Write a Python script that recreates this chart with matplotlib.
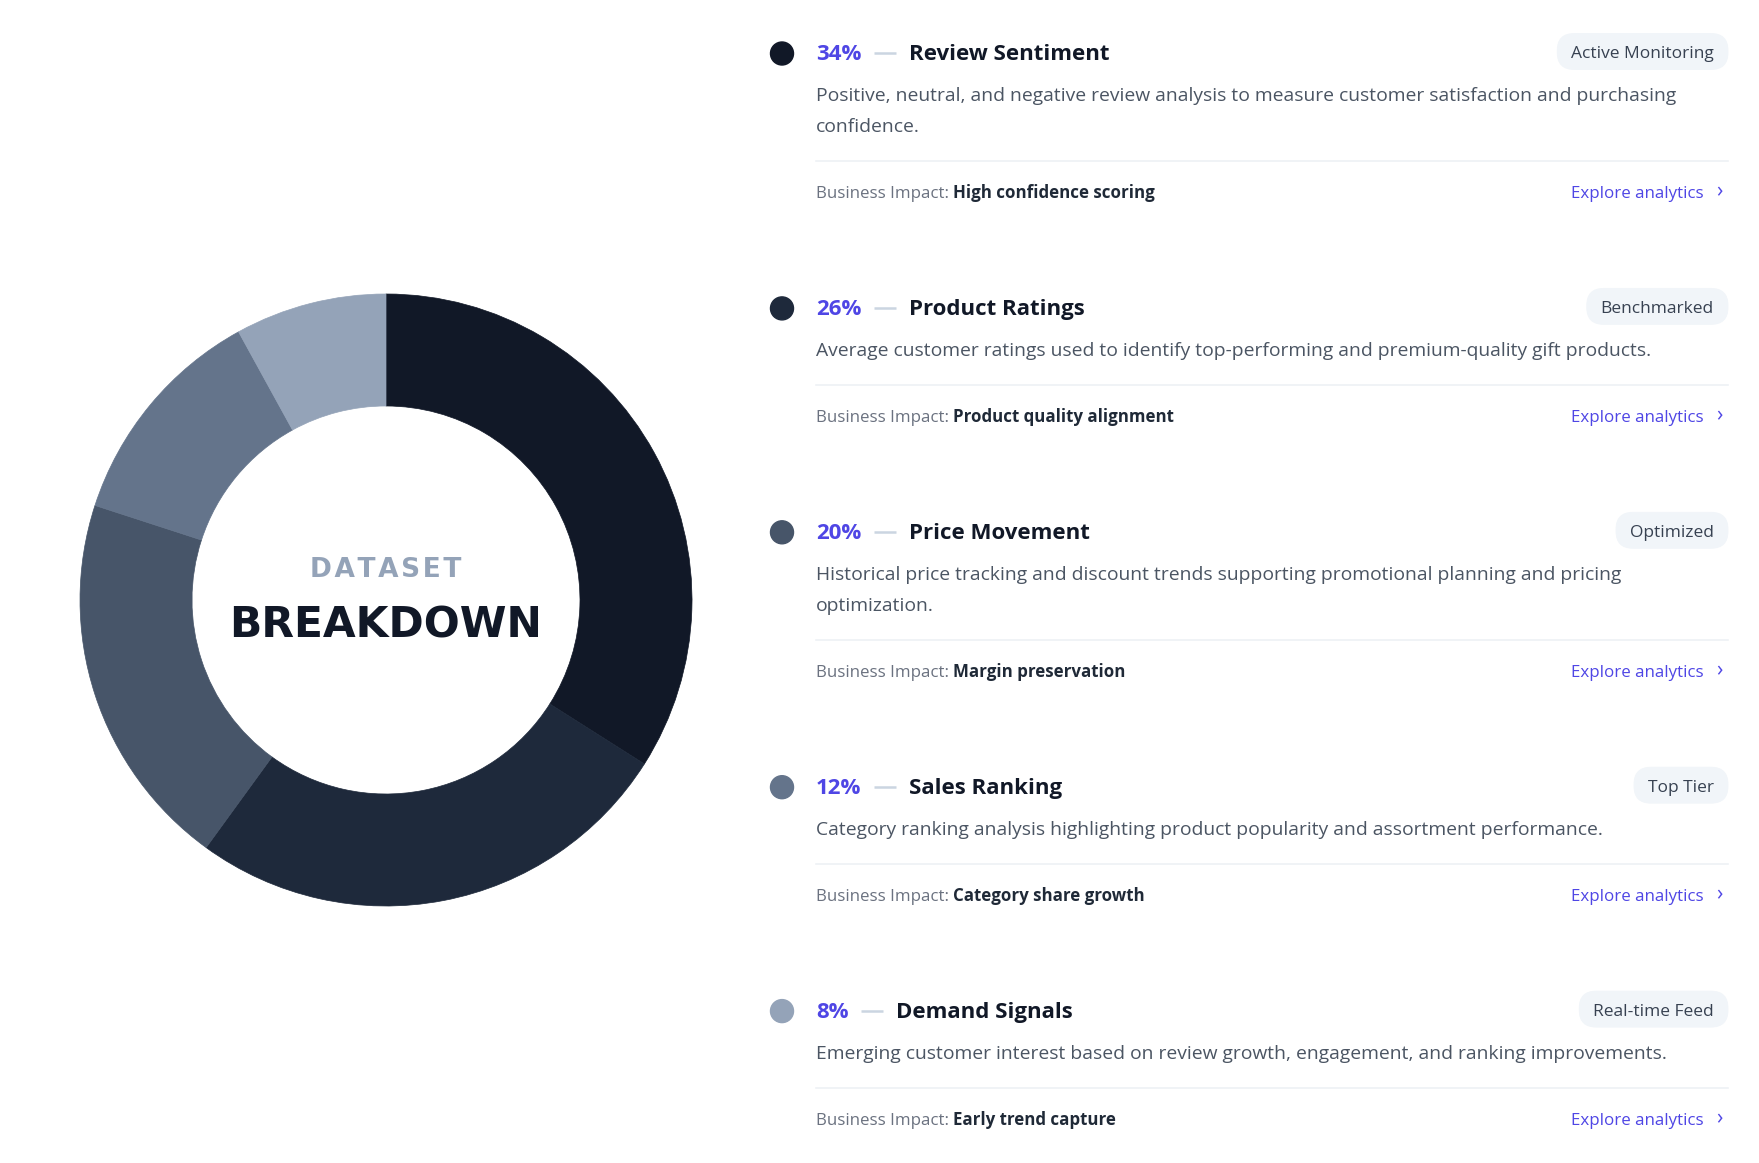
import matplotlib.pyplot as plt
from matplotlib.patches import FancyBboxPatch, Circle

# ---- data ----
shares = [34, 26, 20, 12, 8]
titles = ["Review Sentiment", "Product Ratings", "Price Movement", "Sales Ranking", "Demand Signals"]
descriptions = [
    ["Positive, neutral, and negative review analysis to measure customer satisfaction and purchasing",
     "confidence."],
    ["Average customer ratings used to identify top-performing and premium-quality gift products."],
    ["Historical price tracking and discount trends supporting promotional planning and pricing",
     "optimization."],
    ["Category ranking analysis highlighting product popularity and assortment performance."],
    ["Emerging customer interest based on review growth, engagement, and ranking improvements."],
]
badges = ["Active Monitoring", "Benchmarked", "Optimized", "Top Tier", "Real-time Feed"]
impacts = ["High confidence scoring", "Product quality alignment", "Margin preservation",
           "Category share growth", "Early trend capture"]
slice_colors = ["#111827", "#1e293b", "#475569", "#64748b", "#94a3b8"]

FONT = "Open Sans"
ACCENT = "#4f46e5"

W, H = 1759, 1163
fig = plt.figure(figsize=(W / 100, H / 100), dpi=100)
ax = fig.add_axes([0, 0, 1, 1])
ax.set_xlim(0, W)
ax.set_ylim(H, 0)
ax.axis("off")

# ---- donut ----
cx, cy, r = 386, 600, 306
pax = fig.add_axes([(cx - r) / W, (H - cy - r) / H, 2 * r / W, 2 * r / H])
wedges, _ = pax.pie(shares, colors=slice_colors, startangle=90, counterclock=False, radius=1,
                    wedgeprops=dict(width=0.366))
for w, c in zip(wedges, slice_colors):
    w.set_edgecolor(c)
    w.set_linewidth(0.5)
pax.set_xlim(-1, 1)
pax.set_ylim(-1, 1)
pax.axis("off")

ax.text(cx, 577, "\u200a".join("DATASET"), ha="center", va="baseline", fontsize=19,
        fontweight="bold", color="#94a3b8", family="DejaVu Sans")
ax.text(cx, 637, "BREAKDOWN", ha="center", va="baseline", fontsize=30.5,
        fontweight="bold", color="#111827", family="DejaVu Sans")

# ---- list on the right ----
renderer = fig.canvas.get_renderer()


def right_edge(t):
    return t.get_window_extent(renderer=renderer).x1


x_dot, x_text, x_right = 782, 816, 1728
y = 60
for i in range(len(shares)):
    ax.add_patch(Circle((x_dot, y - 6.5), 11.5, color=slice_colors[i], zorder=3))
    pct = ax.text(x_text, y, f"{shares[i]}%", fontsize=16, fontweight="bold",
                  color=ACCENT, family=FONT, va="baseline")
    px = right_edge(pct)
    ax.plot([px + 13, px + 35], [y - 7, y - 7], color="#cbd5e1", lw=1.8,
            solid_capstyle="butt")
    ax.text(px + 48, y, titles[i], fontsize=16, fontweight="bold", color="#111827",
            family=FONT, va="baseline")

    # badge
    bt = ax.text(x_right - 14, y - 2, badges[i], fontsize=12.5, color="#374151",
                 family=FONT, va="baseline", ha="right")
    bb = bt.get_window_extent(renderer=renderer)
    bw = bb.width + 28
    ax.add_patch(FancyBboxPatch((x_right - bw + 4, y - 8.5 - 14), bw - 8, 28,
                                boxstyle="round,pad=4,rounding_size=17",
                                fc="#f1f5f9", ec="#f1f5f9", lw=0.6, zorder=1))

    # description
    dy = y + 41
    for line in descriptions[i]:
        ax.text(x_text, dy, line, fontsize=13.85, color="#4b5563", family=FONT,
                va="baseline")
        dy += 31
    sep = dy - 31 + 29
    ax.plot([x_text, x_right], [sep, sep], color="#eef1f5", lw=1.2)

    # business impact
    iy = sep + 37.5
    lab = ax.text(x_text, iy, "Business Impact:", fontsize=12.2, color="#6b7280",
                  family=FONT, va="baseline")
    ax.text(right_edge(lab) + 4, iy, impacts[i], fontsize=12.2, fontweight="bold",
            color="#1f2937", family=FONT, va="baseline")
    ax.text(1704, iy, "Explore analytics", fontsize=12.2, color=ACCENT,
            family=FONT, va="baseline", ha="right")
    ax.text(1719, iy - 1, "\u203a", fontsize=15, color=ACCENT, family=FONT,
            va="baseline", ha="center")

    y = iy + 116.4

fig.savefig("out.png", dpi=100, facecolor="white")
